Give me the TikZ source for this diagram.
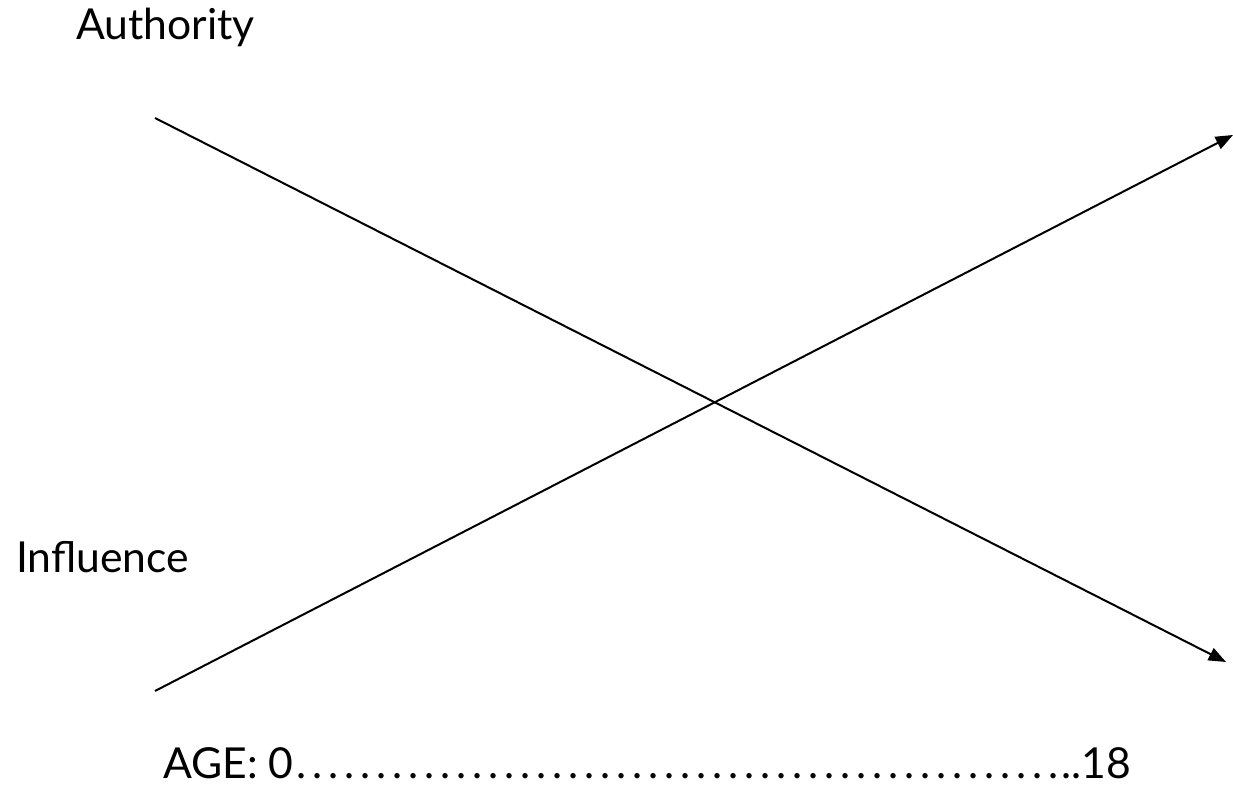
\documentclass[tikz,border=0pt]{standalone}
\usepackage{fontspec}
\setmainfont{Lato}
\usetikzlibrary{arrows.meta}
\begin{document}
\begin{tikzpicture}[x=0.75pt,y=-0.75pt,every node/.style={font=\fontsize{32}{38}\selectfont,inner sep=0pt,anchor=base west}]
  \useasboundingbox (0,0) rectangle (1233,787);
  \coordinate (authstart) at (155,118);
  \coordinate (authend) at (1226,662);
  \coordinate (inflstart) at (155,691);
  \coordinate (inflend) at (1233,135);
  \draw [line width=1.5pt,-{Triangle[length=13pt,width=10pt]}] (authstart) -- (authend);
  \draw [line width=1.5pt,-{Triangle[length=13pt,width=10pt]}] (inflstart) -- (inflend);
  \node (authority) at (76,40) {Authority};
  \node (influence) at (16,573) {Influence};
  \node (age) at (163,779) {AGE: 0\hbox to 576pt{\cleaders\hbox to 12pt{\hss.\hss}\hfill}..18};
\end{tikzpicture}
\end{document}
